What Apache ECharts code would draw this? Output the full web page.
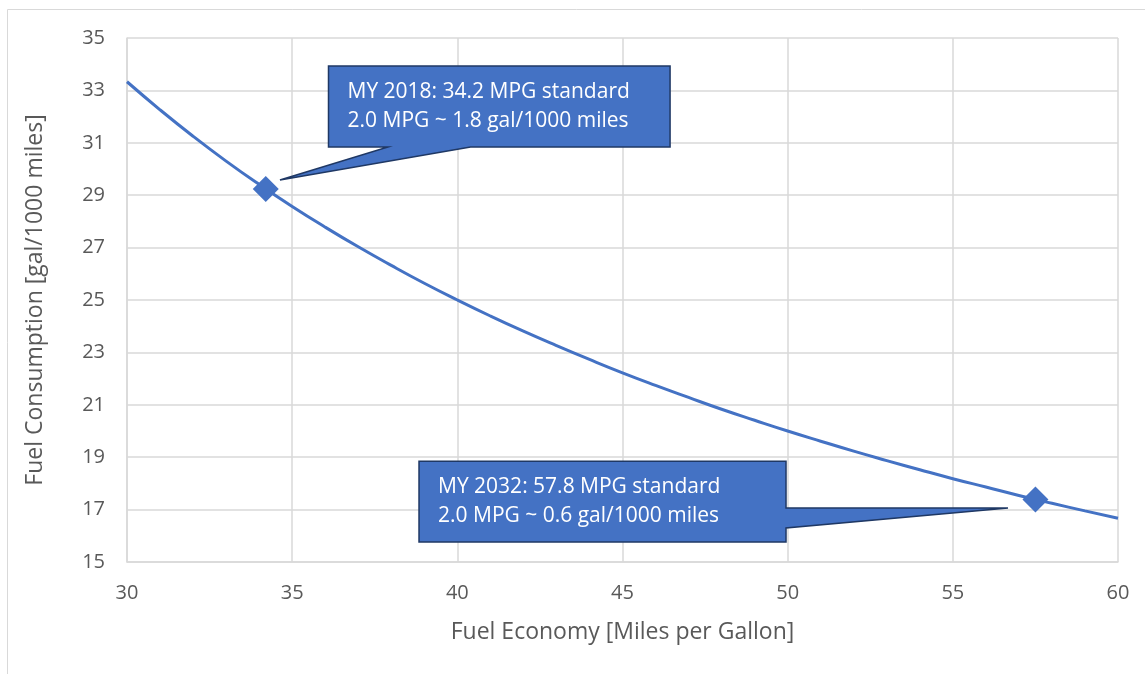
<!DOCTYPE html>
<html><head><meta charset="utf-8">
<script src="https://cdn.jsdelivr.net/npm/echarts@6/dist/echarts.min.js"></script>
<style>html,body{margin:0;padding:0;background:#fff}#c{width:1145px;height:674px}</style>
</head><body><div id="c"></div>
<script>
// Curve values (MPG -> gal/1000 miles)
const mpg = [30,31,32,33,34,35,36,37,38,39,40,41,42,43,44,45,46,47,48,49,50,51,52,53,54,55,56,57,58,59,60];
const consumption = [33.33,32.26,31.25,30.30,29.41,28.57,27.78,27.03,26.32,25.64,25.00,24.39,23.81,23.26,22.73,22.22,21.74,21.28,20.83,20.41,20.00,19.61,19.23,18.87,18.52,18.18,17.86,17.54,17.24,16.95,16.67];
const markerX = [34.2, 57.5];
const markerY = [29.24, 17.39];
const calloutTexts = [
  'MY 2018: 34.2 MPG standard\n2.0 MPG ~ 1.8 gal/1000 miles',
  'MY 2032: 57.8 MPG standard\n2.0 MPG ~ 0.6 gal/1000 miles'
];
const xTitle = 'Fuel Economy [Miles per Gallon]';
const yTitle = 'Fuel Consumption [gal/1000 miles]';

const FONT = '"Open Sans", sans-serif';
const chart = echarts.init(document.getElementById('c'), null, {renderer: 'canvas'});
const gridColor = '#d9d9d9';
chart.setOption({
  animation: false,
  grid: {left: 127, right: 27, top: 38, bottom: 112},
  xAxis: {
    type: 'value', min: 30, max: 60, interval: 5,
    name: xTitle, nameLocation: 'middle', nameGap: 59,
    nameTextStyle: {color: '#595959', fontSize: 23, fontFamily: FONT},
    axisLine: {show: true, lineStyle: {color: gridColor, width: 1.5}},
    axisTick: {show: false},
    axisLabel: {color: '#595959', fontSize: 20, fontFamily: FONT, margin: 21},
    splitLine: {show: true, lineStyle: {color: gridColor, width: 1.5}}
  },
  yAxis: {
    type: 'value', min: 15, max: 35, interval: 2,
    name: yTitle, nameLocation: 'middle', nameGap: 80,
    nameTextStyle: {color: '#595959', fontSize: 23, fontFamily: FONT},
    axisLine: {show: true, lineStyle: {color: gridColor, width: 1.5}},
    axisTick: {show: false},
    axisLabel: {color: '#595959', fontSize: 20, fontFamily: FONT, margin: 22},
    splitLine: {show: true, lineStyle: {color: gridColor, width: 1.5}}
  },
  series: [
    {
      type: 'line', smooth: true, showSymbol: false,
      data: mpg.map((x, i) => [x, consumption[i]]),
      lineStyle: {color: '#4472C4', width: 3}, z: 2
    },
    {
      type: 'scatter', symbol: 'diamond', symbolSize: 26,
      data: markerX.map((x, i) => [x, markerY[i]]),
      itemStyle: {color: '#4472C4', opacity: 1}, z: 3
    }
  ]
});

// Callout geometry (in data coordinates)
const callouts = [
  {box: [[36.1, 33.93], [46.44, 30.84]], tail: [[37.9, 30.84], [40.4, 30.84], [34.63, 29.58]], side: 'bottom'},
  {box: [[38.84, 18.85], [49.95, 15.76]], tail: [[49.95, 17.06], [49.95, 16.30], [56.67, 17.06]], side: 'right'}
];
const px = p => chart.convertToPixel({gridIndex: 0}, p);
const graphics = [{
  type: 'rect', shape: {x: 7.5, y: 9.5, width: 1150, height: 700},
  style: {fill: null, stroke: '#d9d9d9', lineWidth: 1}, z: 0, silent: true
}];
callouts.forEach((c, i) => {
  const a = px(c.box[0]), b = px(c.box[1]);
  const t0 = px(c.tail[0]), t1 = px(c.tail[1]), tip = px(c.tail[2]);
  let pts;
  if (c.side === 'bottom') {
    pts = [[a[0], a[1]], [b[0], a[1]], [b[0], b[1]], t1, tip, t0, [a[0], b[1]]];
  } else {
    pts = [[a[0], a[1]], [b[0], a[1]], t0, tip, t1, [b[0], b[1]], [a[0], b[1]]];
  }
  graphics.push({
    type: 'polygon', shape: {points: pts},
    style: {fill: '#4472C4', stroke: '#1F3864', lineWidth: 1.5}, z: 10
  });
  graphics.push({
    type: 'text', x: a[0] + 19, y: (a[1] + b[1]) / 2,
    style: {text: calloutTexts[i], fill: '#ffffff', font: '21px ' + FONT,
      verticalAlign: 'middle', lineHeight: 29}, z: 11
  });
});
chart.setOption({graphic: graphics});
</script></body></html>
